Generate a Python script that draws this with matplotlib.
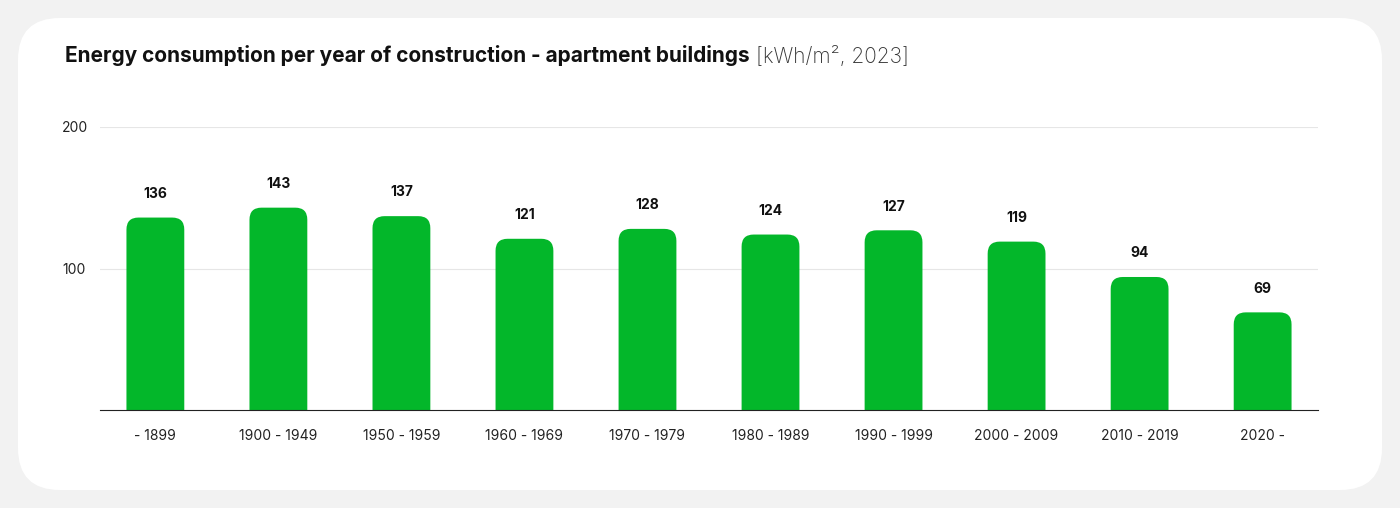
import matplotlib
matplotlib.use("Agg")
import matplotlib.pyplot as plt
from matplotlib.patches import FancyBboxPatch
import matplotlib.transforms as mt

plt.rcParams['font.family'] = ['Inter', 'DejaVu Sans']

categories = ["- 1899", "1900 - 1949", "1950 - 1959", "1960 - 1969", "1970 - 1979",
              "1980 - 1989", "1990 - 1999", "2000 - 2009", "2010 - 2019", "2020 -"]
values = [136, 143, 137, 121, 128, 124, 127, 119, 94, 69]
yticks = [100, 200]

W, H = 14.0, 5.08
fig = plt.figure(figsize=(W, H), dpi=100)
fig.patch.set_facecolor("#f2f2f2")
card = FancyBboxPatch((18/1400, 18/508), 1364/1400, 472/508,
                      boxstyle="round,pad=0,rounding_size=0.03", mutation_aspect=1400/508,
                      transform=fig.transFigure, facecolor="white", edgecolor="none", zorder=-5)
fig.patches.append(card)

ax = fig.add_axes([100/1400, (508-410)/508, 1218/1400, 283/508])
ax.set_zorder(2)
ax.set_facecolor("none")
ax.set_xlim(-0.45, 9.45)
ax.set_ylim(0, 200)
green = "#03b72a"
bw = 0.47
px_x = 1218/9.9
px_y = 283/200
r = 12
for i, v in enumerate(values):
    p = FancyBboxPatch((i - bw/2, -20), bw, v + 20,
                       boxstyle=f"round,pad=0,rounding_size={r/px_x}",
                       mutation_aspect=px_x/px_y, facecolor=green, edgecolor="none", zorder=3)
    ax.add_patch(p)
    ax.annotate(str(v), (i, v), xytext=(0, 12), textcoords="offset points",
                ha="center", va="bottom", fontsize=10, fontweight="bold", color="#111111")
ax.set_xticks(range(len(categories)))
ax.set_xticklabels(categories, fontsize=10, color="#222222")
ax.set_yticks(yticks)
ax.set_yticklabels([str(t) for t in yticks], fontsize=10, color="#222222")
ax.tick_params(length=0)
ax.tick_params(axis="x", pad=14)
ax.tick_params(axis="y", pad=0)
for t in ax.get_yticklabels():
    t.set_ha("left")
    t.set_transform(t.get_transform() + mt.ScaledTranslation(-38/100, 0, fig.dpi_scale_trans))
ax.grid(axis="y", color="#e6e6e6", lw=0.8, zorder=0)
for s in ["top", "right", "left"]:
    ax.spines[s].set_visible(False)
ax.spines["bottom"].set_color("#222222")
ax.spines["bottom"].set_zorder(4)

t1 = fig.text(65/1400, 1 - 56/508, "Energy consumption per year of construction - apartment buildings",
              fontsize=15, fontweight="bold", va="center", color="#111111")
fig.canvas.draw()
bb = t1.get_window_extent()
fig.text((bb.x1 + 6)/1400, 1 - 56/508, "[kWh/m², 2023]", fontsize=15, fontweight="light",
         va="center", color="#333333")
fig.savefig("out.png", dpi=100, facecolor=fig.get_facecolor())
